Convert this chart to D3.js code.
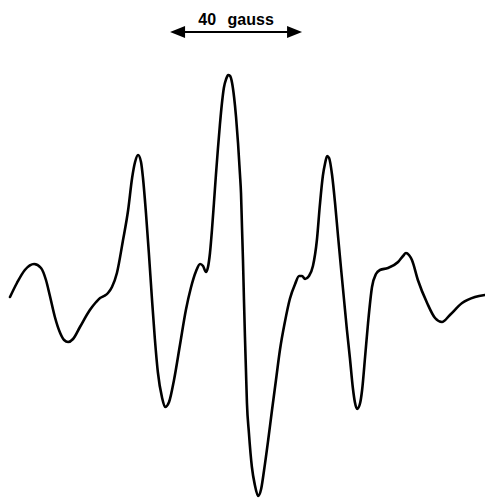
<!DOCTYPE html>
<html>
<head>
<meta charset="utf-8">
<script src="https://cdn.jsdelivr.net/npm/d3@7"></script>
<style>
  html, body { margin: 0; padding: 0; background: #fff; }
  svg { display: block; }
</style>
</head>
<body>
<svg id="chart" width="485" height="499"></svg>
<script>
// Magnetic field (gauss, relative to left end of trace)
const field = [
  0.0, 2.1, 4.5, 7.3, 9.4, 10.9, 12.1, 13.6, 15.2, 16.4,
  17.6, 19.1, 21.2, 24.2, 26.1, 27.3, 28.5, 29.7, 30.9, 32.4,
  34.2, 35.8, 37.0, 37.9, 38.8, 39.7, 40.3, 41.2, 42.1, 43.0,
  43.9, 44.8, 46.1, 47.0, 48.2, 49.7, 51.5, 53.3, 54.8, 56.4,
  57.6, 58.5, 59.4, 60.0, 60.6, 61.2, 61.8, 62.4, 63.0, 63.6,
  64.2, 64.8, 65.5, 66.1, 66.7, 67.3, 67.9, 68.5, 69.1, 69.7,
  70.0, 70.3, 70.6, 70.9, 71.2, 71.5, 71.8, 72.4, 73.3, 74.2,
  75.2, 76.1, 77.0, 78.2, 79.4, 80.6, 81.8, 83.3, 84.8, 86.4,
  87.6, 88.5, 89.4, 90.6, 91.8, 93.0, 93.9, 94.8, 95.5, 96.1,
  96.7, 97.6, 98.5, 99.4, 100.3, 101.2, 102.1, 103.0, 103.9, 104.5,
  105.2, 106.1, 106.7, 107.6, 108.5, 109.7, 110.9, 112.1, 114.5, 117.6,
  119.1, 120.0, 120.9, 121.8, 123.6, 126.4, 128.8, 130.9, 133.3, 137.0,
  140.9, 143.9
];
// First-derivative EPR signal (arbitrary units)
const signal = [
  0, 7, 13.5, 16.5, 14.5, 8.5, 0.5, -10, -18, -21.5,
  -22.5, -21, -15, -6.5, -2.5, -0.5, 0.5, 2, 5, 12,
  28, 43.5, 59.5, 67.5, 71, 67.5, 59.5, 42, 21.5, -0.5,
  -21, -37.5, -50.5, -55, -52.5, -41.5, -24, -6.5, 4.5, 13,
  16.5, 15.5, 12.5, 15, 22, 33.5, 47, 61, 74, 86,
  96.5, 104.5, 109, 111, 110.5, 107, 100, 90, 77, 61,
  52, 35, 18.5, -1.5, -20, -36.5, -53, -68, -85, -94,
  -99.5, -96, -86.5, -72, -56.5, -41.5, -26.5, -12.5, -1, 6.5,
  10.5, 10.5, 9, 10.5, 15.5, 28.5, 46, 60.5, 67, 70.5,
  69.5, 61, 47, 30.5, 14.5, -1, -16.5, -30.5, -45.5, -52.5,
  -56, -53, -46.5, -30, -13, 5, 11.5, 13.5, 14.5, 17.5,
  20.5, 22, 21, 18.5, 8.5, -3, -10.5, -12.5, -9, -3,
  0, 1
];
// Scale bar
const scaleBarStart = [48.5];
const scaleBarLength = [40];
const scaleBarLabel = ["40 gauss"];

const svg = d3.select("#chart");
const x = d3.scaleLinear().domain([0, 143.94]).range([10, 485]);
const y = d3.scaleLinear().domain([-100, 115]).range([497, 67]);

const data = field.map((f, i) => ({ f, s: signal[i] }));

const line = d3.line()
  .x(d => x(d.f))
  .y(d => y(d.s))
  .curve(d3.curveMonotoneX);

svg.append("path")
  .datum(data)
  .attr("d", line)
  .attr("fill", "none")
  .attr("stroke", "#000")
  .attr("stroke-width", 2.6)
  .attr("stroke-linejoin", "round")
  .attr("stroke-linecap", "round");

// Scale bar with arrowheads
const x0 = x(scaleBarStart[0]);
const x1 = x(scaleBarStart[0] + scaleBarLength[0]);
const yBar = 32;
const headL = 15, headH = 6;
const bar = svg.append("g");
bar.append("line")
  .attr("x1", x0 + headL - 1).attr("x2", x1 - headL + 1)
  .attr("y1", yBar).attr("y2", yBar)
  .attr("stroke", "#000").attr("stroke-width", 2);
bar.append("path")
  .attr("d", `M${x0},${yBar} L${x0 + headL},${yBar - headH} L${x0 + headL},${yBar + headH} Z`)
  .attr("fill", "#000");
bar.append("path")
  .attr("d", `M${x1},${yBar} L${x1 - headL},${yBar - headH} L${x1 - headL},${yBar + headH} Z`)
  .attr("fill", "#000");
bar.append("text")
  .attr("x", (x0 + x1) / 2)
  .attr("y", 25)
  .attr("text-anchor", "middle")
  .attr("font-family", "Liberation Sans, Arial, sans-serif")
  .attr("font-weight", "bold")
  .attr("font-size", 16)
  .attr("word-spacing", 7)
  .text(scaleBarLabel[0]);
</script>
</body>
</html>
